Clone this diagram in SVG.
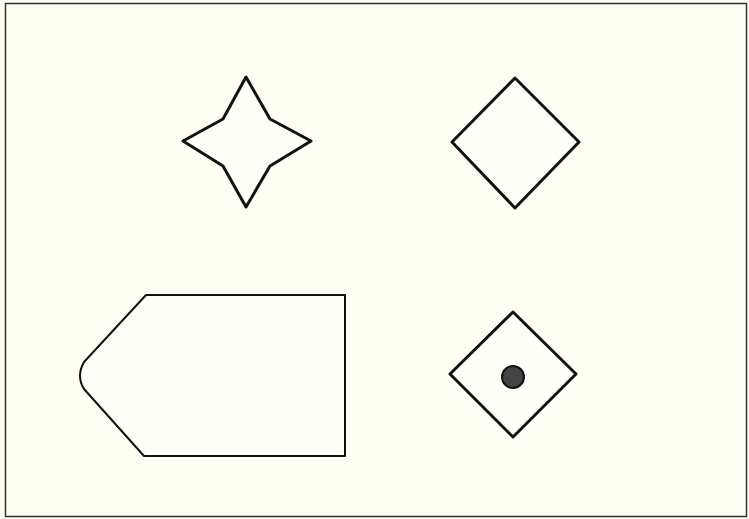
<svg xmlns="http://www.w3.org/2000/svg" width="749" height="519" viewBox="0 0 749 519">
<style>
.shape{fill:#fffffa;stroke:#111;stroke-width:3;stroke-linejoin:round}
.thin{fill:#fffffa;stroke:#111;stroke-width:2;stroke-linejoin:round}
</style>
<rect x="0" y="0" width="749" height="519" fill="#fffff5"/>
<rect x="5.5" y="3.5" width="741" height="513" fill="#fffff5" stroke="#333" stroke-width="1.5"/>
<g id="star">
<path class="shape" d="M246,77 L223,119 L183,141 L223,166 L246,207 L270,166 L311,141 L270,119 Z"/>
</g>
<g id="diamond">
<path class="shape" d="M515,78 L579,142 L515,208 L452,142 Z"/>
</g>
<g id="tag">
<path class="thin" d="M146,295 L345,295 L345,456 L144,456 L84,389 Q76,376 84,362 Z"/>
</g>
<g id="diamond-dot">
<path class="shape" d="M513,312 L576,374 L513,437 L450,374 Z"/>
<circle cx="513" cy="377" r="11" fill="#444" stroke="#111" stroke-width="2"/>
</g>
<g id="connectors"/>
</svg>
